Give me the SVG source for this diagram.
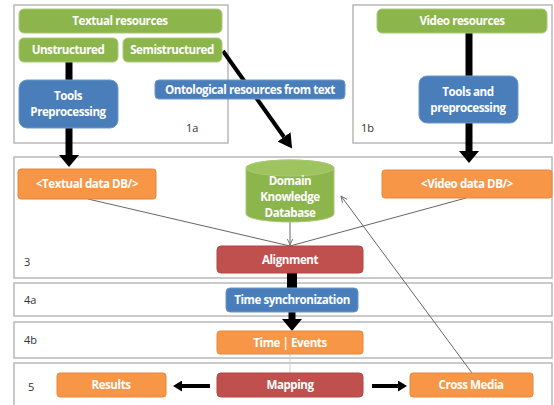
<svg xmlns="http://www.w3.org/2000/svg" width="554" height="405" viewBox="0 0 554 405">
<defs>
<style>
.sec{fill:#fff;stroke:#b8b8b8;stroke-width:1.5}
.g{fill:#8cb54b;stroke:#a9c97a;stroke-width:1}
.b{fill:#4a7ebb;stroke:#6f97c9;stroke-width:1}
.o{fill:#f79646;stroke:#e7863a;stroke-width:1}
.r{fill:#c0504d;stroke:#b04542;stroke-width:1}
.t{font-family:"Open Sans","Liberation Sans",sans-serif;font-size:11.6px;font-weight:bold;fill:#fff;text-anchor:middle;letter-spacing:-0.45px}
.lab{font-family:"Open Sans","Liberation Sans",sans-serif;font-size:11px;fill:#333}
.thick{stroke:#000;stroke-width:7;fill:none}
.thin{stroke:#666;stroke-width:1;fill:none}
</style>
<marker id="big" viewBox="0 0 12 20" refX="0" refY="10" markerWidth="12" markerHeight="20" orient="auto" markerUnits="userSpaceOnUse"><path d="M0,0 L12,10 L0,20 z" fill="#000"/></marker>
<marker id="mid" viewBox="0 0 14 16" refX="0" refY="8" markerWidth="14" markerHeight="16" orient="auto" markerUnits="userSpaceOnUse"><path d="M0,0 L14,8 L0,16 z" fill="#000"/></marker>
<marker id="sm" viewBox="0 0 9 11" refX="0" refY="5.5" markerWidth="9" markerHeight="11" orient="auto" markerUnits="userSpaceOnUse"><path d="M0,0 L9,5.5 L0,11 z" fill="#000"/></marker>
<marker id="ahs" viewBox="0 0 10 10" refX="9" refY="5" markerWidth="7" markerHeight="7" orient="auto" markerUnits="userSpaceOnUse"><path d="M0,1 L9,5 L0,9" fill="none" stroke="#666" stroke-width="1.2"/></marker>
</defs>
<rect width="554" height="405" fill="#fff"/>
<g id="sections">
<rect class="sec" x="14" y="5" width="214" height="138"/>
<rect class="sec" x="353" y="5" width="199" height="138"/>
<rect class="sec" x="14" y="157" width="538" height="121"/>
<rect class="sec" x="14" y="283" width="538" height="33"/>
<rect class="sec" x="14" y="322" width="538" height="36"/>
<rect class="sec" x="14" y="363" width="538" height="45"/>
<text class="lab" x="186" y="132">1a</text>
<text class="lab" x="361" y="132">1b</text>
<text class="lab" x="24" y="266">3</text>
<text class="lab" x="24" y="304">4a</text>
<text class="lab" x="24" y="344">4b</text>
<text class="lab" x="28" y="391">5</text>
</g>
<g id="connectors">
<line class="thick" x1="69" y1="62" x2="69" y2="80"/>
<line class="thick" x1="69" y1="128" x2="69" y2="155" marker-end="url(#big)"/>
<line class="thick" x1="469" y1="33" x2="469" y2="76"/>
<line class="thick" x1="469" y1="123" x2="469" y2="151" marker-end="url(#big)"/>
<line x1="223" y1="51" x2="284" y2="137" stroke="#000" stroke-width="4" marker-end="url(#mid)"/>
<line class="thin" x1="88" y1="199" x2="290" y2="246"/>
<line class="thin" x1="466" y1="198" x2="290" y2="246"/>
<line class="thin" x1="290" y1="222" x2="290" y2="245" marker-end="url(#ahs)"/>
<line class="thin" x1="472" y1="373" x2="341" y2="196" marker-end="url(#ahs)"/>
<line stroke="#000" stroke-width="10" x1="292" y1="273" x2="292" y2="288"/>
<line class="thick" x1="292" y1="312" x2="292" y2="319" marker-end="url(#big)"/>
<line x1="290" y1="354" x2="290" y2="373" stroke="#ccc" stroke-width="1"/>
<line stroke="#000" stroke-width="4" x1="210" y1="386" x2="182" y2="386" marker-end="url(#sm)"/>
<line stroke="#000" stroke-width="4" x1="372" y1="386" x2="398" y2="386" marker-end="url(#sm)"/>
</g>
<g id="textual-resources"><rect class="g" x="19" y="9" width="203" height="24" rx="5"/><text class="t" x="120" y="25">Textual resources</text></g>
<g id="unstructured"><rect class="g" x="19" y="38" width="99" height="24" rx="5"/><text class="t" x="68" y="54">Unstructured</text></g>
<g id="semistructured"><rect class="g" x="123" y="38" width="99" height="24" rx="5"/><text class="t" x="172" y="54">Semistructured</text></g>
<g id="tools-preprocessing"><rect class="b" x="19" y="80" width="99" height="48" rx="8"/><text class="t" x="68" y="100">Tools</text><text class="t" x="68" y="116">Preprocessing</text></g>
<g id="ontological"><rect class="b" x="155" y="80" width="190" height="19" rx="4"/><text class="t" x="250" y="94">Ontological resources from text</text></g>
<g id="video-resources"><rect class="g" x="377" y="9" width="170" height="24" rx="5"/><text class="t" x="462" y="25">Video resources</text></g>
<g id="tools-and-preprocessing"><rect class="b" x="419" y="76" width="99" height="47" rx="8"/><text class="t" x="468" y="96">Tools and</text><text class="t" x="468" y="112">preprocessing</text></g>
<g id="textual-db"><rect class="o" x="18" y="169" width="138" height="30" rx="3"/><text class="t" x="87" y="188">&lt;Textual data DB/&gt;</text></g>
<g id="video-db"><rect class="o" x="382" y="170" width="170" height="28" rx="3"/><text class="t" x="467" y="188">&lt;Video data DB/&gt;</text></g>
<g id="domain-db">
<path d="M246,168 L246,214 A44,8 0 0 0 334,214 L334,168 A44,8 0 0 0 246,168 Z" fill="#8cb54b" stroke="#a9c97a"/>
<ellipse cx="290" cy="168" rx="44" ry="8" fill="#9dc45e" stroke="#a9c97a"/>
<text class="t" x="290" y="185">Domain</text>
<text class="t" x="290" y="201">Knowledge</text>
<text class="t" x="290" y="217">Database</text>
</g>
<g id="alignment"><rect class="r" x="217" y="246" width="146" height="27" rx="4"/><text class="t" x="290" y="264">Alignment</text></g>
<g id="time-sync"><rect class="b" x="226" y="288" width="132" height="24" rx="4"/><text class="t" x="292" y="304">Time synchronization</text></g>
<g id="time-events"><rect class="o" x="217" y="331" width="146" height="23" rx="3"/><text class="t" x="290" y="347">Time | Events</text></g>
<g id="mapping"><rect class="r" x="217" y="373" width="146" height="24" rx="4"/><text class="t" x="290" y="389">Mapping</text></g>
<g id="results"><rect class="o" x="57" y="373" width="109" height="24" rx="3"/><text class="t" x="111" y="389">Results</text></g>
<g id="cross-media"><rect class="o" x="410" y="373" width="123" height="24" rx="3"/><text class="t" x="471" y="389">Cross Media</text></g>
</svg>
